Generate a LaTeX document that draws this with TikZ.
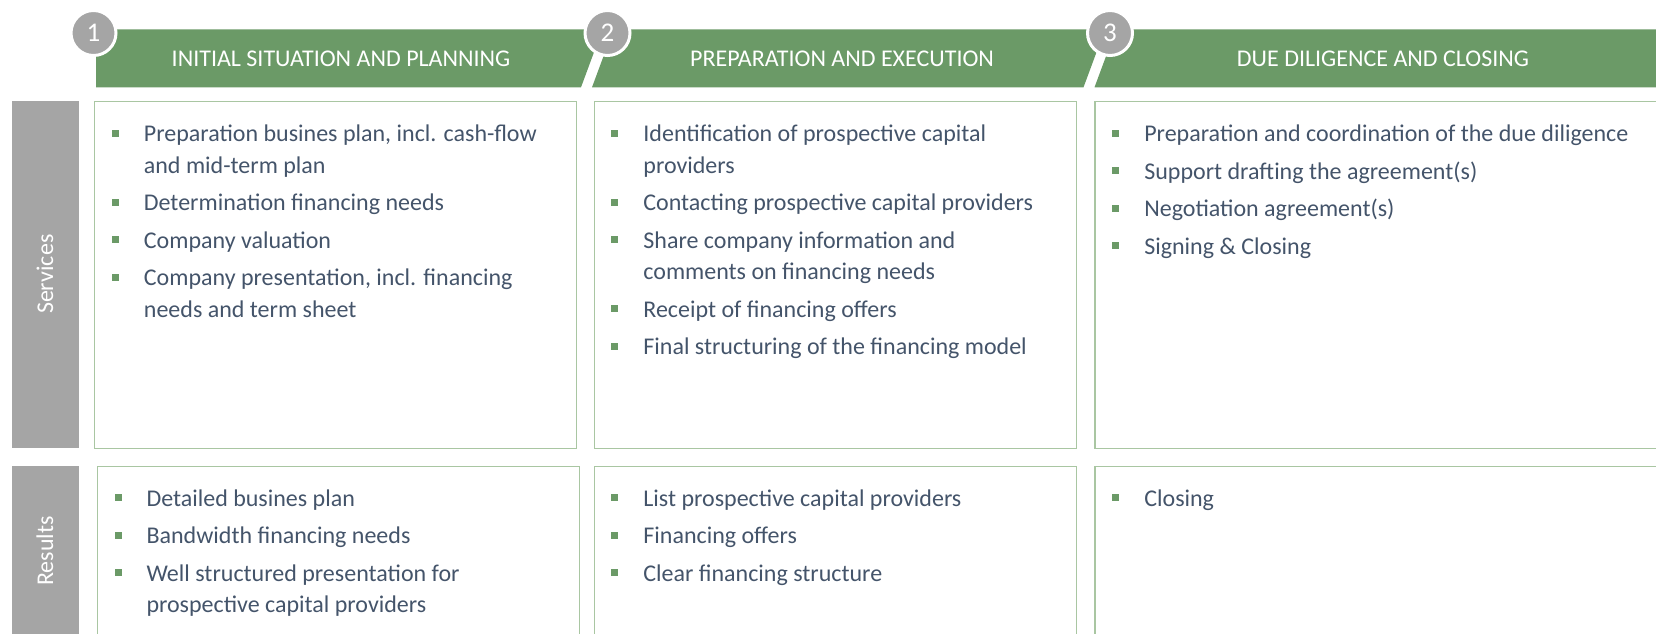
\documentclass[tikz,border=0pt]{standalone}
\usepackage{fontspec}
\setmainfont{Carlito}
\usetikzlibrary{positioning}

\definecolor{bandgreen}{HTML}{6B9A67}
\definecolor{panelgreen}{HTML}{A9C6A2}
\definecolor{sidegray}{HTML}{A5A5A5}
\definecolor{bodytext}{HTML}{44546A}

% green square used as list mark
\newcommand{\bul}{\textcolor{bandgreen}{\rule[5pt]{7pt}{7pt}}}
\newenvironment{bullets}{\begin{tabular}[t]{@{}p{32pt}@{}l@{}}}{\end{tabular}}

\begin{document}
\begin{tikzpicture}[x=1pt,y=-1pt]
        \tikzstyle{band_style} = [fill=bandgreen]
        \tikzstyle{band_text} = [anchor=base,text=white,font=\fontsize{24}{28}\selectfont]
        \tikzstyle{step_num} = [circle,fill=sidegray,draw=white,line width=3pt,minimum size=45pt,inner sep=0pt,text=white,font=\fontsize{27}{27}\selectfont]
        \tikzstyle{side_bar} = [fill=sidegray,rotate=90,inner sep=0pt,minimum height=67pt,text=white,font=\fontsize{24}{28}\selectfont]
        \tikzstyle{panel} = [draw=panelgreen,line width=1.2pt,anchor=north west,inner sep=0pt]
        \tikzstyle{item_list} = [inner sep=0pt,text=bodytext,font=\fontsize{24}{31.3}\selectfont]
        \useasboundingbox (0,0) rectangle (1656,634);
        \clip (0,0) rectangle (1656,634);
        % phase bands
        \fill[band_style] (96,29.3) -- (602.5,29.3) -- (581,87.3) -- (96,87.3) -- cycle;
        \fill[band_style] (613.5,29.3) -- (1105,29.3) -- (1083.5,87.3) -- (592,87.3) -- cycle;
        \fill[band_style] (1116,29.3) -- (1700,29.3) -- (1700,87.3) -- (1094.5,87.3) -- cycle;
        \node[band_text] (t1) at (341,66.5) {INITIAL SITUATION AND PLANNING};
        \node[band_text] (t2) at (842,66.5) {PREPARATION AND EXECUTION};
        \node[band_text] (t3) at (1383,66.5) {DUE DILIGENCE AND CLOSING};
        \node[step_num] (n1) at (93.5,33) {1};
        \node[step_num] (n2) at (607.5,33) {2};
        \node[step_num] (n3) at (1110,33) {3};
        % row labels
        \node[side_bar,minimum width=346.7pt] (svc) at (45,274.3) {Services};
        \node[side_bar,minimum width=170pt] (res) at (45,551) {Results};
        % panels
        \node[panel,minimum width=482pt,minimum height=346.7pt] (svc1) at (94,101) {};
        \node[panel,minimum width=482pt,minimum height=346.7pt] (svc2) at (593.5,101) {};
        \node[panel,minimum width=600pt,minimum height=346.7pt] (svc3) at (1094.4,101) {};
        \node[panel,minimum width=482.6pt,minimum height=180pt] (res1) at (96.6,466) {};
        \node[panel,minimum width=482pt,minimum height=180pt] (res2) at (593.5,466) {};
        \node[panel,minimum width=600pt,minimum height=180pt] (res3) at (1094.4,466) {};
        % services
        \node[item_list,below right=18.8pt and 17.7pt of svc1.north west] (svc1list) {\begin{bullets}
            \bul & Preparation busines plan, incl. cash-flow \\ & and mid-term plan \\[6.2pt]
            \bul & Determination financing needs \\[6.2pt]
            \bul & Company valuation \\[6.2pt]
            \bul & Company presentation, incl. financing \\ & needs and term sheet
          \end{bullets}};
        \node[item_list,below right=18.8pt and 17.7pt of svc2.north west] (svc2list) {\begin{bullets}
            \bul & Identification of prospective capital \\ & providers \\[6.2pt]
            \bul & Contacting prospective capital providers \\[6.2pt]
            \bul & Share company information and \\ & comments on financing needs \\[6.2pt]
            \bul & Receipt of financing offers \\[6.2pt]
            \bul & Final structuring of the financing model
          \end{bullets}};
        \node[item_list,below right=18.8pt and 17.7pt of svc3.north west] (svc3list) {\begin{bullets}
            \bul & Preparation and coordination of the due diligence \\[6.2pt]
            \bul & Support drafting the agreement(s) \\[6.2pt]
            \bul & Negotiation agreement(s) \\[6.2pt]
            \bul & Signing \& Closing
          \end{bullets}};
        % results
        \node[item_list,below right=18.1pt and 17.7pt of res1.north west] (res1list) {\begin{bullets}
            \bul & Detailed busines plan \\[6.2pt]
            \bul & Bandwidth financing needs \\[6.2pt]
            \bul & Well structured presentation for \\ & prospective capital providers
          \end{bullets}};
        \node[item_list,below right=18.1pt and 17.7pt of res2.north west] (res2list) {\begin{bullets}
            \bul & List prospective capital providers \\[6.2pt]
            \bul & Financing offers \\[6.2pt]
            \bul & Clear financing structure
          \end{bullets}};
        \node[item_list,below right=18.1pt and 17.7pt of res3.north west] (res3list) {\begin{bullets}
            \bul & Closing
          \end{bullets}};
      \end{tikzpicture}
\end{document}
